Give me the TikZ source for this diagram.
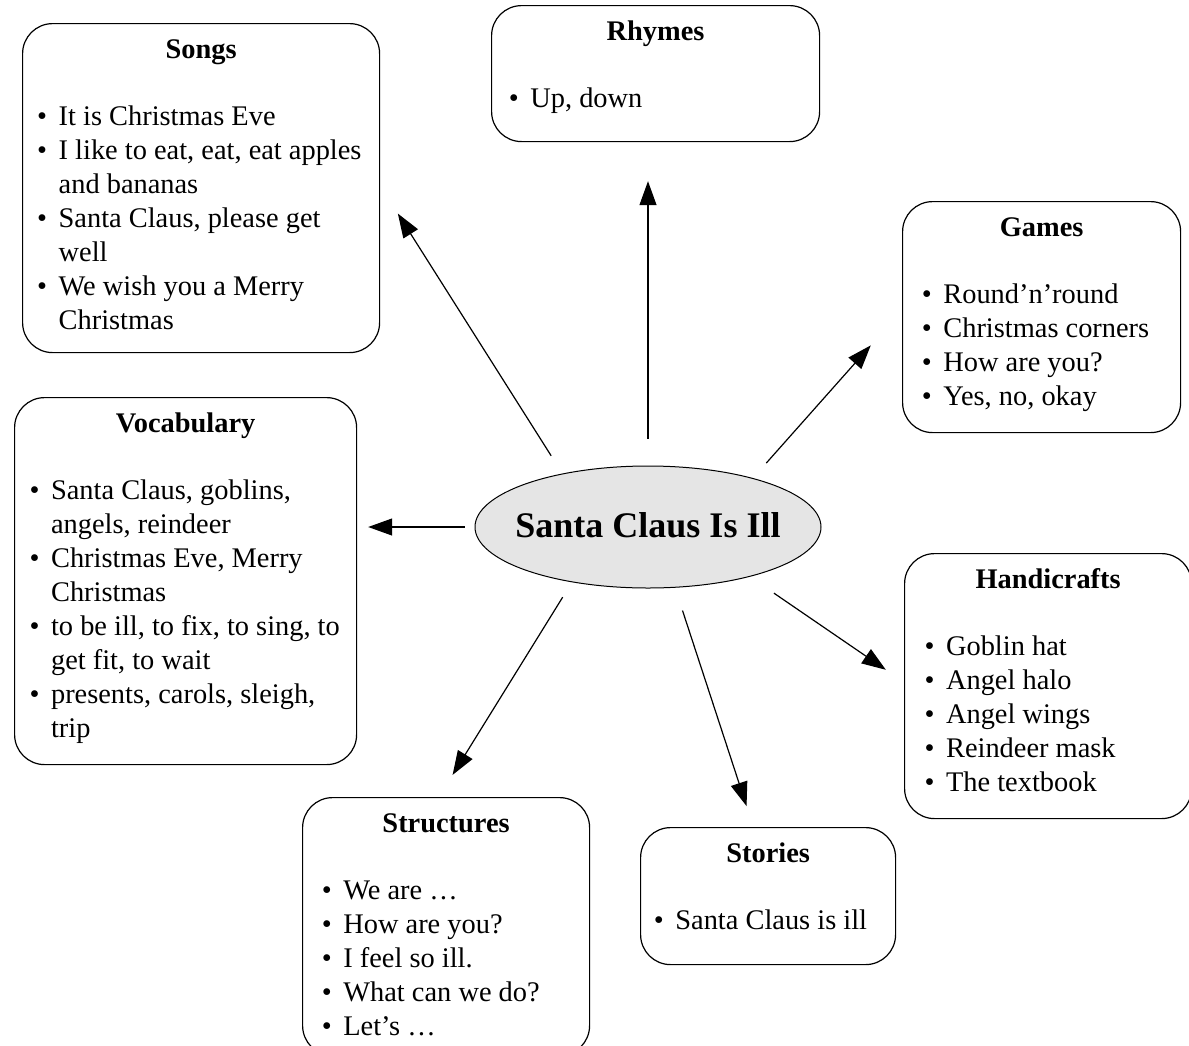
\documentclass[tikz,border=0pt]{standalone}
\usepackage{fontspec}
\setmainfont{Liberation Serif}
\usetikzlibrary{arrows.meta,shapes.geometric}

\newlength\bulpad
\newcommand\boxhead[1]{\vspace*{11.2pt}{\centering\strut\textbf{#1}\par}\vspace{33pt}\raggedright}
\newcommand\bul[1]{\par\noindent\hangindent=\dimexpr\bulpad+21.5pt\relax\hangafter=1
  \hspace*{\bulpad}\makebox[21.5pt][l]{\textbullet}\strut#1\par}

\tikzset{
  topic/.style={draw, line width=1.2pt, rounded corners=30pt, inner sep=0pt,
    anchor=north west, font=\fontsize{28.4}{34}\selectfont},
  link/.style={line width=1.2pt, -{Triangle[length=24pt,width=17pt]}}
}

\begin{document}
\begin{tikzpicture}[x=1pt,y=-1pt]
\useasboundingbox (0,0) rectangle (1189,1045);

\node[ellipse, draw, line width=1pt, fill=gray!20, minimum width=346pt, minimum height=122pt,
  inner sep=0pt] (hub) at (648,527)
  {\makebox[0pt]{\raisebox{4pt}{\fontsize{36}{40}\selectfont\bfseries Santa Claus Is Ill}}};

\node[topic] (songs) at (22,23) {\parbox[c][329pt][t]{357pt}{\setlength\bulpad{14.6pt}\boxhead{Songs}
  \bul{It is Christmas Eve}
  \bul{I like to eat, eat, eat apples\newline and bananas}
  \bul{Santa Claus, please get\newline well}
  \bul{We wish you a Merry\newline Christmas}}};
\node[topic] (rhymes) at (491,5) {\parbox[c][136pt][t]{328pt}{\setlength\bulpad{17.3pt}\boxhead{Rhymes}
  \bul{Up, down}}};
\node[topic] (games) at (902,201) {\parbox[c][231pt][t]{278pt}{\setlength\bulpad{19.3pt}\boxhead{Games}
  \bul{Round’n’round}
  \bul{Christmas corners}
  \bul{How are you?}
  \bul{Yes, no, okay}}};
\node[topic] (vocab) at (14,397) {\parbox[c][367pt][t]{342pt}{\setlength\bulpad{15pt}\boxhead{Vocabulary}
  \bul{Santa Claus, goblins,\newline angels, reindeer}
  \bul{Christmas Eve, Merry\newline Christmas}
  \bul{to be ill, to fix, to sing, to\newline get fit, to wait}
  \bul{presents, carols, sleigh,\newline trip}}};
\node[topic] (crafts) at (904,553) {\parbox[c][265pt][t]{287pt}{\setlength\bulpad{20pt}\boxhead{Handicrafts}
  \bul{Goblin hat}
  \bul{Angel halo}
  \bul{Angel wings}
  \bul{Reindeer mask}
  \bul{The textbook}}};
\node[topic] (structs) at (302,797) {\parbox[c][258pt][t]{287pt}{\setlength\bulpad{19.3pt}\boxhead{Structures}
  \bul{We are …}
  \bul{How are you?}
  \bul{I feel so ill.}
  \bul{What can we do?}
  \bul{Let’s …}}};
\node[topic] (stories) at (640,827) {\parbox[c][137pt][t]{255pt}{\setlength\bulpad{13.3pt}\boxhead{Stories}
  \bul{Santa Claus is ill}}};

\draw[link, shorten <=21pt, shorten >=33pt] (hub.148) -- ([yshift=2.4pt]songs.east);
\draw[link, shorten <=27pt, shorten >=39pt] (hub.north) -- (hub.north |- rhymes.south);
\draw[link, shorten <=20pt, shorten >=47pt] (hub.25) -- ([yshift=6.9pt]games.west);
\draw[link, shorten <=10pt, shorten >=11pt] (hub.west) -- (hub.west -| vocab.east);
\draw[link, shorten <=29pt, shorten >=22pt] (hub.334) -- ([yshift=3.9pt]crafts.west);
\draw[link, shorten <=24pt, shorten >=22pt] (hub.294) -- ([xshift=-14.7pt]stories.north);
\draw[link, shorten <=17.5pt, shorten >=26pt] (hub.216) -- ([xshift=-7.2pt]structs.north);
\end{tikzpicture}
\end{document}
